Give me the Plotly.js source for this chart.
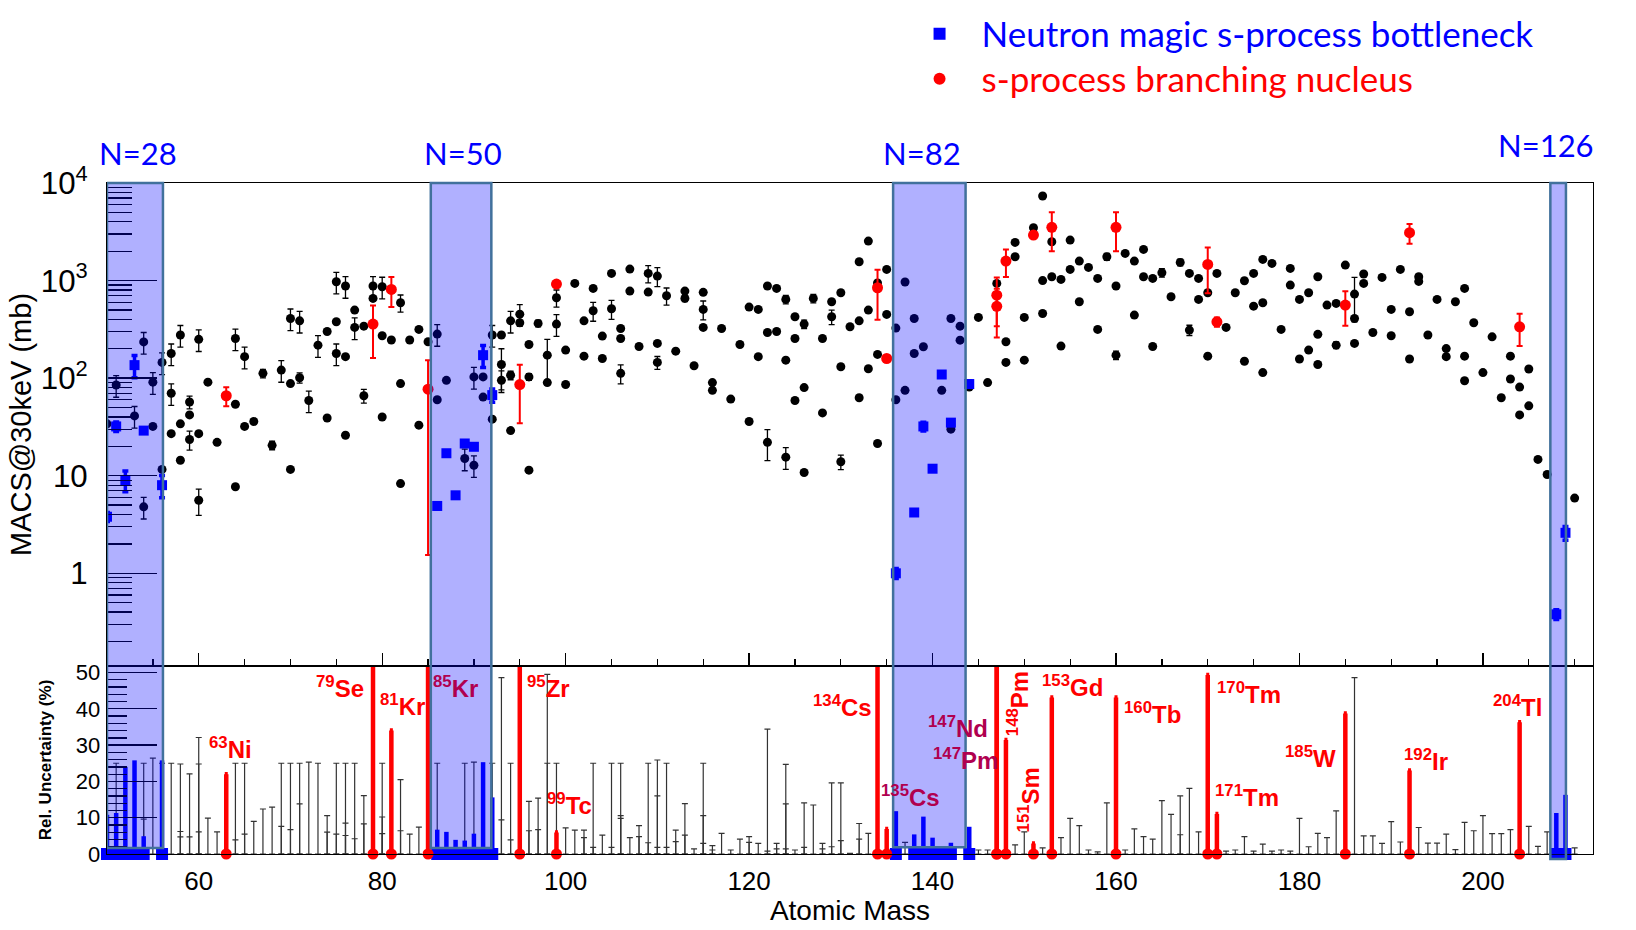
<!DOCTYPE html>
<html><head><meta charset="utf-8">
<script src="https://cdn.plot.ly/plotly-3.0.1.min.js"></script>
<style>html,body{margin:0;padding:0;background:#fff}#chart{width:1636px;height:930px}</style>
</head><body><div id="chart"></div>
<script>
// ---------- upper panel: MACS of all nuclides (mass, MACS in mb, rel. uncertainty %) ----------
const bkMass = [
 50,51,53,54,54,55,55,56,56,57,57,57,58,58,58,59,59,59,
 60,60,60,61,62,64,64,64,65,65,66,67,68,69,
 70,70,70,71,71,72,73,74,74,75,75,75,76,76,76,77,77,78,78,79,79,
 80,80,80,81,82,82,82,83,84,84,85,86,86,87,89,
 90,90,91,91,92,92,93,93,93,94,94,94,95,95,96,96,96,97,98,98,99,99,
 100,100,101,102,102,103,103,104,104,105,105,106,106,106,107,107,108,109,109,
 110,110,110,111,112,113,113,114,115,115,115,116,116,117,118,119,
 120,120,121,121,122,122,122,123,123,124,124,124,125,125,125,126,126,126,127,128,128,129,129,
 130,130,130,131,132,132,132,133,133,133,134,134,134,135,135,136,136,137,137,138,138,139,
 141,142,142,143,143,144,145,146,147,148,148,149,149,
 150,150,151,152,152,152,153,153,154,154,155,155,156,156,157,158,158,159,
 160,160,161,162,162,163,163,164,164,165,166,167,168,168,169,169,
 170,170,171,172,173,174,174,175,175,176,176,176,177,178,179,179,
 180,180,181,181,182,182,182,183,184,184,185,186,186,186,187,187,188,189,
 190,190,191,192,192,193,193,194,195,196,196,197,198,198,198,199,
 200,201,202,203,203,204,204,205,205,206,207,210];
const bkMacs = [
 34,85,41,235,4.8,91,32,11.6,145,179,70,27,277,34,14.4,57,42,23.5,
 250,27,5.6,91,22,255,54,7.7,166,32,36,112,20.5,121,
 409,88,11.6,387,101,59,218,301,39,973,378,179,879,166,26,498,331,341,66,879,656,
 865,272,40,246,593,88,8.3,246,316,33,236,283,60,95,15,
 12.8,103,103,64,277,38,277,138,95,387,107,29,453,370,221,103,11.4,364,172,90,667,358,
 194,86,935,387,168,831,491,270,159,1185,514,323,255,112,1312,780,211,1185,762,
 1112,227,145,699,189,780,656,134,757,506,331,90,75,323,61,221,
 36,535,506,166,879,294,22,831,301,641,153,15.5,426,255,59,358,80,10.8,656,255,44,607,426,
 750,131,13.9,336,1560,387,63,2540,498,125,945,175,21.4,1302,450,326,60,966,75,409,179,210,
 75,409,30,341,245,81,419,90,935,236,145,2462,1755,
 419,153,3480,7360,1000,460,2500,1095,1028,213,2600,1302,1585,607,1365,1052,316,1755,
 879,172,1900,1585,443,2088,1095,1052,211,1203,683,1535,1185,311,1052,641,
 750,168,1185,331,750,996,149,1185,547,1648,593,114,1500,316,1333,899,
 641,157,750,194,1095,281,138,561,583,218,1442,727,409,227,1167,935,294,1077,
 506,272,1302,479,157,1095,981,277,641,201,166,607,831,168,94,370,
 114,265,63,168,98,81,42,124,52,14.7,10.3,5.9];
const bkUnc = [
 0,25,25,25,25,25,0,0,25,25,25,0,25,0,0,15,0,22,
 25,0,30,0,0,25,0,0,25,0,0,10,10,25,
 25,0,0,25,12,25,25,0,0,25,0,25,25,0,0,0,25,0,16,25,0,
 25,0,0,0,20,0,0,0,0,0,0,25,0,0,25,
 25,25,0,0,25,0,0,45,25,25,10,0,25,0,0,8,0,8,45,0,20,25,
 0,0,0,0,0,0,22,0,0,0,22,0,0,22,0,0,0,20,0,
 22,0,15,20,0,0,7,0,0,22,0,0,0,0,0,0,
 0,0,0,0,0,0,35,0,0,10,0,25,0,0,0,10,0,0,10,0,0,0,17,
 0,0,17,0,0,0,0,0,0,0,0,0,0,0,0,0,0,0,0,0,0,0,
 0,0,0,0,0,0,0,0,0,0,0,0,0,
 0,0,0,0,0,0,0,0,0,0,0,0,0,0,0,0,0,8,
 0,10,0,0,0,0,0,0,0,10,0,8,0,12,0,0,
 0,0,0,0,0,0,0,0,0,0,0,0,0,0,0,0,
 0,0,0,0,0,0,0,0,0,8,0,48,0,0,0,0,0,0,
 0,0,0,0,0,0,0,0,0,0,0,0,0,0,0,0,
 0,0,0,0,0,0,0,0,0,0,0,0];

// ---------- neutron magic s-process bottleneck nuclides ----------
const blMass = [50,51,52,53,54,56,86,87,88,89,90,91,92,136,138,139,140,141,142,144,208,209];
const blMacs = [3.8,32,9,136,29,8,4.9,17,6.3,21.4,19.8,172,67,1.0,4.2,32,11.8,109,35,87,0.38,2.6];
const blUnc  = [10.8,11.3,24,25.8,4.9,25.8,6.7,6.1,3.9,3.7,5.6,25.3,15.6,11.8,5.4,10.3,4.5,1.5,3.1,7.5,11.3,16.3];

// ---------- s-process branching nuclei ----------
const brNum  = ['63','79','81','85','95','99','134','135','147','147','148','151','153','160','170','171','185','192','204'];
const brElem = ['Ni','Se','Kr','Kr','Zr','Tc','Cs','Cs','Nd','Pm','Pm','Sm','Gd','Tb','Tm','Tm','W','Ir','Tl'];
const brMass = [63,79,81,85,95,99,134,135,147,147,148,151,153,160,170,171,185,192,204];
const brMacs = [66,358,811,77,86,920,844,159,544,709,1585,2930,3510,3510,1465,378,561,3097,336];
const brUnc  = [22,55,34,98,60,5.9,53,6.9,52,52,31.4,2.9,43.1,43.1,49.3,11,38.7,23,36.3];

// ---------- lower panel: relative uncertainties of the other nuclides ----------
const lowMass = [
 51,54,54,55,56,57,58,58,58,59,59,
 60,60,60,61,62,64,64,65,65,66,67,68,69,69,
 70,70,71,71,72,73,74,74,75,75,76,76,76,77,77,78,78,
 80,80,80,82,82,83,84,86,89,
 90,92,93,93,94,94,96,96,97,97,98,98,99,
 100,101,102,102,103,103,104,105,105,106,106,106,107,108,108,109,109,
 110,110,110,111,111,112,112,113,113,114,115,115,115,116,116,117,118,119,
 120,120,121,122,122,123,123,124,124,124,125,126,126,127,128,128,129,129,
 130,130,131,132,132,133,137,141,145,146,149,
 150,152,154,155,156,157,158,159,
 161,162,163,164,165,166,167,167,168,169,
 172,173,174,175,176,177,178,179,
 180,181,182,183,184,186,187,188,189,
 190,191,193,194,195,196,197,198,199,
 200,201,202,203,205,206,207,210];
const lowUnc = [
 25,25,9.6,26.4,25,25,24.8,6.2,4.7,22.1,4.7,
 32.1,24.8,6.1,9.9,6.1,25,3.9,25,5.5,9.0,12.4,12.9,25,7.6,
 25,6.7,25,13.8,25.3,25,10.6,6.0,25,5.5,25,8.5,5.1,25,4.2,16.1,8.3,
 25,10.2,5.6,20.5,6.4,5.5,7.4,25,25,
 25.3,25,48.6,9.4,25,3.9,14.5,6.4,15.4,6.7,49.5,25,25,
 7.2,6.6,6.6,4.5,25,1.8,5.2,25,1.8,25,10.6,9.8,4.5,7.8,4.8,25,3.1,
 25.9,16,1.8,25,1.8,6.6,3.4,13.9,5.2,1.4,25,10.6,2.9,2.3,1.1,5.7,1.1,4.1,
 4.8,3.2,2.9,34.4,0.8,2.9,1.4,24.7,13.8,1.4,1.1,14.1,1.8,13.5,2.9,1.4,19.6,2.0,
 19.6,3.7,0.2,8.4,4.1,5.7,3.2,1.4,1.1,1.1,2.5,
 6.1,1.7,4.5,9.8,7.8,1.1,0.6,14.1,
 1.1,6.9,4.8,4.1,14.7,10.9,16,5.3,18.1,6.1,
 0.8,1.1,4.8,0.8,2.7,0.8,1.1,0.8,
 9.8,2.0,5.7,4.5,11.9,48.6,5.0,5.0,2.9,
 8.9,3.3,7.3,3.0,3.0,5.5,1.2,8.7,6.4,
 10.6,5.6,5.6,6.7,7.6,2.1,6.1,1.7];

// ---------- decorations (layout only) ----------
const bandLabels = ['N=28','N=50','N=82','N=126'];
const bandX0 = [50, 85.3, 135.7, 207.35];
const bandX1 = [56.1, 91.9, 143.6, 209.05];
const bandBottom = [0.009, 0.009, 0.010, -0.0075];
const bandLabelX = [53.4, 88.8, 138.9, 206.9];
const bandLabelY = [1.045, 1.045, 1.045, 1.057];
// label placement for the branching-nucleus names in the lower panel
const lblX = [60.95,72.6,79.5,85.3,95.6,97.7,126.7,134.2,139.3,139.8,149.4,150.5,151.7,160.6,170.8,170.6,178.2,191.2,200.9];
const lblY = [26.1,43,38,43,43,10.6,37.8,13,31.8,23.1,41.5,15,43.3,35.8,41.3,13,23.6,22.8,37.7];
const lblRot = [0,0,0,0,0,0,0,0,0,0,1,1,0,0,0,0,0,0,0];
const lblInBand = [0,0,0,1,0,0,0,1,1,1,0,0,0,0,0,0,0,0,0];

const RED = '#ff0000', BLUE = '#0000ff';
const zerosOf = n => new Array(n).fill(0);
const pctArr = (v, p) => v.map((x, i) => x * p[i] / 100);

const traces = [
  { // upper: black nuclides
    x: bkMass, y: bkMacs, xaxis: 'x2', yaxis: 'y2', type: 'scatter', mode: 'markers',
    marker: {color: 'black', size: 9, symbol: 'circle'},
    error_y: {type: 'data', array: pctArr(bkMacs, bkUnc), color: 'black', thickness: 1.3, width: 3},
    showlegend: false, hoverinfo: 'x+y'
  },
  { // upper: bottleneck
    x: blMass, y: blMacs, xaxis: 'x2', yaxis: 'y2', type: 'scatter', mode: 'markers',
    name: 'Neutron magic s-process bottleneck', legend: 'legend',
    marker: {color: BLUE, size: 10, symbol: 'square'},
    error_y: {type: 'data', array: pctArr(blMacs, blUnc), color: BLUE, thickness: 3.5, width: 3}
  },
  { // upper: branching
    x: brMass, y: brMacs, xaxis: 'x2', yaxis: 'y2', type: 'scatter', mode: 'markers',
    name: 's-process branching nucleus', legend: 'legend2',
    marker: {color: RED, size: 11, symbol: 'circle'},
    error_y: {type: 'data', array: pctArr(brMacs, brUnc), color: RED, thickness: 2, width: 3}
  },
  { // lower: black uncertainty bars
    x: lowMass, y: zerosOf(lowMass.length), xaxis: 'x', yaxis: 'y', type: 'scatter', mode: 'markers',
    marker: {size: 1, opacity: 0},
    error_y: {type: 'data', symmetric: false, array: lowUnc, arrayminus: zerosOf(lowMass.length), color: '#333', thickness: 1.2, width: 3},
    showlegend: false, hoverinfo: 'skip'
  },
  { // lower: blue bars
    x: blMass, y: zerosOf(blMass.length), xaxis: 'x', yaxis: 'y', type: 'scatter', mode: 'markers',
    marker: {size: 1, opacity: 0},
    error_y: {type: 'data', symmetric: false, array: blUnc, arrayminus: zerosOf(blMass.length), color: BLUE, thickness: 4.5, width: 0},
    showlegend: false, hoverinfo: 'skip'
  },
  { // lower: red bars
    x: brMass, y: zerosOf(brMass.length), xaxis: 'x', yaxis: 'y', type: 'scatter', mode: 'markers',
    marker: {size: 1, opacity: 0},
    error_y: {type: 'data', symmetric: false, array: brUnc, arrayminus: zerosOf(brMass.length), color: RED, thickness: 4.5, width: 1.5},
    showlegend: false, hoverinfo: 'skip'
  },
  { // lower: blue squares on the axis
    x: blMass, y: zerosOf(blMass.length), xaxis: 'x', yaxis: 'y3', type: 'scatter', mode: 'markers',
    marker: {color: BLUE, size: 12, symbol: 'square'}, cliponaxis: false, showlegend: false
  },
  { // lower: red dots on the axis
    x: brMass, y: zerosOf(brMass.length), xaxis: 'x', yaxis: 'y3', type: 'scatter', mode: 'markers',
    marker: {color: RED, size: 11, symbol: 'circle'}, cliponaxis: false, showlegend: false
  }
];

const F = 'Liberation Sans, Arial, sans-serif';
const split = 188 / 671;

const shapes = bandX0.map((x0, i) => ({
  type: 'rect', xref: 'x', yref: 'paper', x0: x0, x1: bandX1[i], y0: bandBottom[i], y1: 1,
  fillcolor: 'rgba(0,0,255,0.31)', line: {color: 'rgb(65,113,156)', width: 2.5}, layer: 'above'
}));

const annotations = [];
bandLabels.forEach((t, i) => annotations.push({
  text: t, xref: 'x', yref: 'paper', x: bandLabelX[i], y: bandLabelY[i],
  xanchor: 'center', yanchor: 'middle', showarrow: false,
  font: {family: 'Lato, Open Sans, sans-serif', size: 31, color: BLUE}
}));
brElem.forEach((el, i) => {
  const col = lblInBand[i] ? 'rgb(176,0,79)' : RED;
  const a = {
    text: '<b><sup>' + brNum[i] + '</sup>' + el + '</b>', xref: 'x', yref: 'y',
    x: lblX[i], y: lblY[i], showarrow: false,
    font: {family: F, size: 24, color: col}
  };
  if (lblRot[i]) { a.textangle = -90; a.xanchor = 'center'; a.yanchor = 'middle'; }
  else { a.xanchor = 'left'; a.yanchor = 'bottom'; a.y = lblY[i] - 1.6; }
  annotations.push(a);
});

const layout = {
  width: 1636, height: 930,
  margin: {l: 107, r: 43, t: 183, b: 76, pad: 0, autoexpand: false},
  paper_bgcolor: 'white', plot_bgcolor: 'white',
  font: {family: F, color: 'black'},
  showlegend: true,
  xaxis: {
    domain: [0, 1], range: [50, 212], anchor: 'y', showgrid: false, zeroline: false,
    showline: true, mirror: true, linecolor: 'black', linewidth: 1.3,
    ticks: '', tick0: 0, dtick: 20, tickfont: {family: F, size: 26}, ticklabelstandoff: 3,
    title: {text: 'Atomic Mass', font: {family: F, size: 28}, standoff: 0}
  },
  xaxis2: {
    domain: [0, 1], range: [50, 212], matches: 'x', anchor: 'y2', showgrid: false, zeroline: false,
    showline: true, mirror: true, linecolor: 'black', linewidth: 1.3, showticklabels: false,
    ticks: 'inside', ticklen: 13, tickwidth: 1.3, tickcolor: 'black', tick0: 0, dtick: 20,
    minor: {ticks: 'inside', ticklen: 7, tickwidth: 1.3, tickcolor: 'black', dtick: 5, tick0: 0}
  },
  yaxis: {
    domain: [0, split], range: [0, 51.8], anchor: 'x', showgrid: false, zeroline: false,
    showline: true, mirror: true, linecolor: 'black', linewidth: 1.3,
    ticks: 'inside', ticklen: 50, tickwidth: 1.3, tickcolor: 'black', tick0: 0, dtick: 10,
    minor: {ticks: 'inside', ticklen: 20, tickwidth: 1.3, tickcolor: 'black', dtick: 2, tick0: 0},
    tickfont: {family: F, size: 22}, ticklabelstandoff: 1,
    title: {text: '<b>Rel. Uncertainty (%)</b>', font: {family: F, size: 17}, standoff: 20}
  },
  yaxis2: {
    domain: [split, 1], type: 'log', range: [-0.95, 4], anchor: 'x2', showgrid: false, zeroline: false,
    showline: true, mirror: true, linecolor: 'black', linewidth: 1.3,
    tick0: 0, dtick: 1, exponentformat: 'power',
    ticks: 'inside', ticklen: 50, tickwidth: 1.3, tickcolor: 'black',
    minor: {ticks: 'inside', ticklen: 25, tickwidth: 1.3, tickcolor: 'black', dtick: 'D1'},
    tickfont: {family: F, size: 25}, ticklabelstandoff: 13,
    title: {text: 'MACS@30keV (mb)', font: {family: F, size: 29}, standoff: 0}
  },
  yaxis3: {overlaying: 'y', anchor: 'x', range: [0, 51.8], visible: false, showgrid: false, zeroline: false},
  legend: {
    x: 0.532, y: 1.222, xanchor: 'left', yanchor: 'middle', itemwidth: 74, itemsizing: 'constant',
    bgcolor: 'rgba(0,0,0,0)', font: {family: 'Lato, Open Sans, sans-serif', size: 35, color: BLUE}
  },
  legend2: {
    x: 0.532, y: 1.155, xanchor: 'left', yanchor: 'middle', itemwidth: 74, itemsizing: 'constant',
    bgcolor: 'rgba(0,0,0,0)', font: {family: 'Lato, Open Sans, sans-serif', size: 35, color: RED}
  },
  shapes: shapes,
  annotations: annotations
};

Plotly.newPlot('chart', traces, layout, {displayModeBar: false, staticPlot: true});
</script></body></html>
